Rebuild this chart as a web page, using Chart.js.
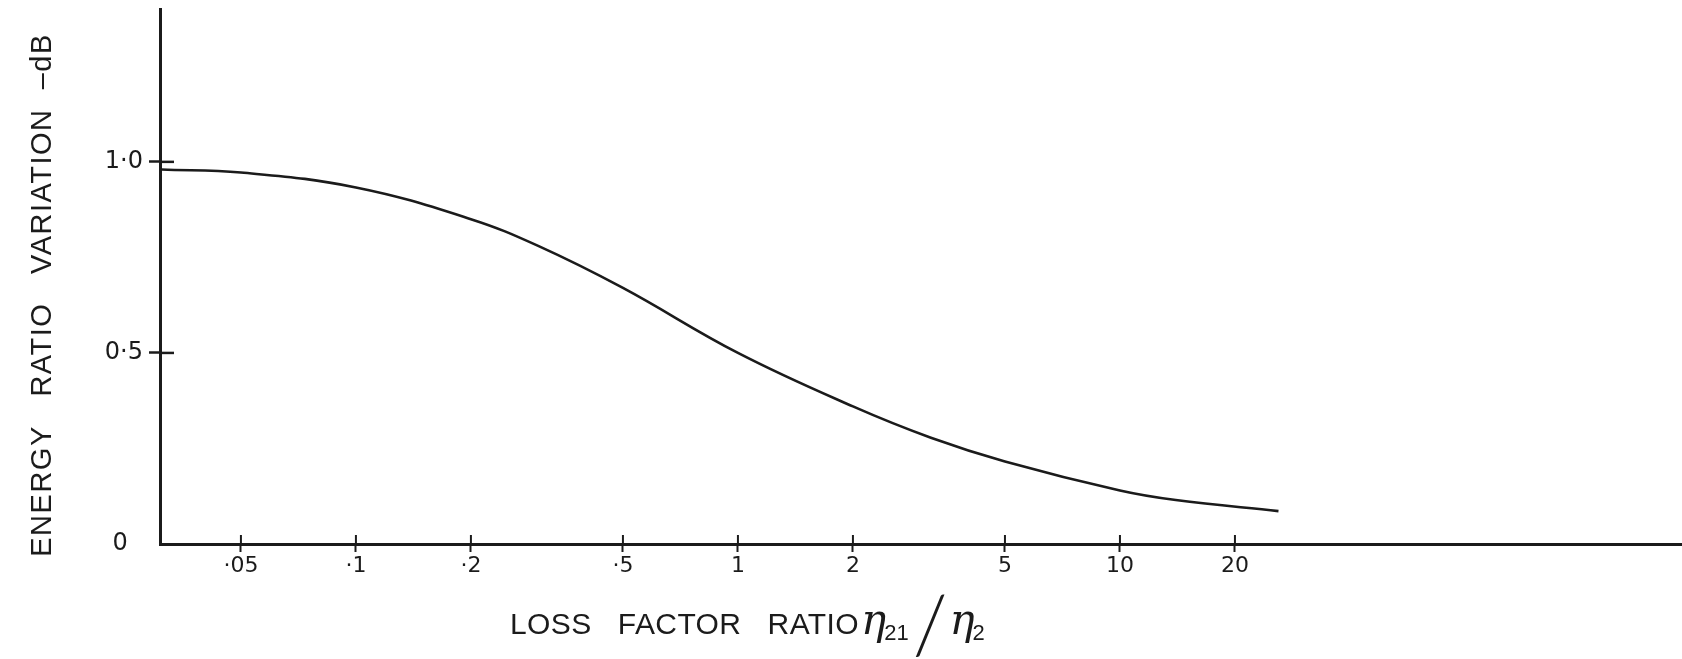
<!DOCTYPE html>
<html>
<head>
<meta charset="utf-8">
<script src="https://cdn.jsdelivr.net/npm/chart.js@4.4.1/dist/chart.umd.min.js"></script>
<style>
  html, body { margin: 0; padding: 0; background: #ffffff; }
  #wrap { width: 1682px; height: 659px; }
  canvas { display: block; }
</style>
</head>
<body>
<div id="wrap"><canvas id="chart" width="1682" height="659"></canvas></div>
<script>
// Loss factor ratio (x) against energy ratio variation in dB (y)
const lossRatio       = [0.031, 0.05, 0.1, 0.2, 0.3, 0.5, 1, 2, 3.2, 5, 10, 14, 26];
const energyVariation = [0.98, 0.972, 0.933, 0.85, 0.78, 0.67, 0.50, 0.36, 0.278, 0.216, 0.14, 0.115, 0.086];

const xTickValues = [0.05, 0.1, 0.2, 0.5, 1, 2, 5, 10, 20];
const xTickLabels = ['·05', '·1', '·2', '·5', '1', '2', '5', '10', '20'];
const yTickValues = [0, 0.5, 1.0];
const yTickLabels = ['0  ', '0·5', '1·0'];

const yTitle = 'ENERGY   RATIO   VARIATION  –dB';
const xTitle = 'LOSS   FACTOR   RATIO';

const INK = '#1b1b1b';

// Tick marks cross the axis lines: the library draws the outer half,
// this draws the inner half, plus the hand-lettered axis titles.
const crossTicksAndTitles = {
  id: 'crossTicksAndTitles',
  afterDraw(chart) {
    const { ctx, chartArea, scales } = chart;
    const xs = scales.x, ys = scales.y;
    ctx.save();
    ctx.strokeStyle = INK;
    ctx.lineCap = 'butt';

    ctx.lineWidth = 2;
    xs.ticks.forEach((t) => {
      const px = xs.getPixelForValue(t.value);
      ctx.beginPath();
      ctx.moveTo(px, chartArea.bottom);
      ctx.lineTo(px, chartArea.bottom - 9);
      ctx.stroke();
    });
    ctx.lineWidth = 2.5;
    ys.ticks.forEach((t) => {
      if (t.value === 0) return;
      const py = ys.getPixelForValue(t.value);
      ctx.beginPath();
      ctx.moveTo(chartArea.left, py);
      ctx.lineTo(chartArea.left + 14, py);
      ctx.stroke();
    });

    ctx.fillStyle = INK;

    // vertical title
    ctx.save();
    ctx.translate(43, 295);
    ctx.rotate(-Math.PI / 2);
    ctx.font = '29px "Liberation Sans"';
    ctx.letterSpacing = '1.5px';
    ctx.textAlign = 'center';
    ctx.textBaseline = 'middle';
    ctx.fillText(yTitle, 0, 0);
    ctx.restore();

    // horizontal title with eta symbols
    const baseY = 634;
    let x = chartArea.left + 350;
    ctx.textAlign = 'left';
    ctx.textBaseline = 'alphabetic';
    ctx.font = '30px "Liberation Sans"';
    ctx.letterSpacing = '0.4px';
    ctx.fillText(xTitle, x, baseY);
    x += ctx.measureText(xTitle).width + 2;
    ctx.letterSpacing = '0px';

    ctx.font = 'italic 42px "DejaVu Serif"';
    ctx.fillText('η', x, baseY);
    x += ctx.measureText('η').width - 2;
    ctx.font = '22px "Liberation Sans"';
    ctx.fillText('21', x, baseY + 6);
    x += ctx.measureText('21').width + 4;

    ctx.font = '300 80px Lato, "Liberation Sans"';
    ctx.fillText('/', x, baseY + 20);
    x += ctx.measureText('/').width + 2;

    ctx.font = 'italic 42px "DejaVu Serif"';
    ctx.fillText('η', x, baseY);
    x += ctx.measureText('η').width - 2;
    ctx.font = '22px "Liberation Sans"';
    ctx.fillText('2', x, baseY + 6);

    ctx.restore();
  }
};

new Chart(document.getElementById('chart'), {
  type: 'line',
  data: {
    datasets: [{
      data: lossRatio.map((v, i) => ({ x: v, y: energyVariation[i] })),
      borderColor: INK,
      borderWidth: 2.6,
      pointRadius: 0,
      fill: false,
      tension: 0.4
    }]
  },
  options: {
    responsive: false,
    animation: false,
    layout: { padding: { top: 9, right: 0, bottom: 0, left: 0 } },
    plugins: { legend: { display: false }, tooltip: { enabled: false } },
    scales: {
      x: {
        type: 'logarithmic',
        min: 0.0307,
        max: 296,
        afterBuildTicks: (s) => { s.ticks = xTickValues.map((v) => ({ value: v })); },
        afterFit: (s) => { s.height = 115; s.paddingLeft = 0; s.paddingRight = 0; },
        ticks: {
          autoSkip: false,
          maxRotation: 0,
          padding: 1,
          color: INK,
          font: { family: 'DejaVu Sans', size: 22 },
          callback: (v, i) => xTickLabels[i]
        },
        grid: { drawOnChartArea: false, drawTicks: true, tickLength: 8, tickWidth: 2, tickColor: INK },
        border: { display: true, color: INK, width: 3 }
      },
      y: {
        type: 'linear',
        min: 0,
        max: 1.4,
        afterBuildTicks: (s) => { s.ticks = yTickValues.map((v) => ({ value: v })); },
        afterFit: (s) => { s.width = 160; s.paddingTop = 0; s.paddingBottom = 0; },
        ticks: {
          padding: 6,
          color: INK,
          font: { family: 'DejaVu Sans', size: 24 },
          callback: (v, i) => yTickLabels[i]
        },
        grid: {
          drawOnChartArea: false,
          drawTicks: true,
          tickLength: 11,
          tickWidth: 2.5,
          tickColor: (c) => (c.tick && c.tick.value === 0 ? 'rgba(0,0,0,0)' : INK)
        },
        border: { display: true, color: INK, width: 3 }
      }
    }
  },
  plugins: [crossTicksAndTitles]
});
</script>
</body>
</html>
